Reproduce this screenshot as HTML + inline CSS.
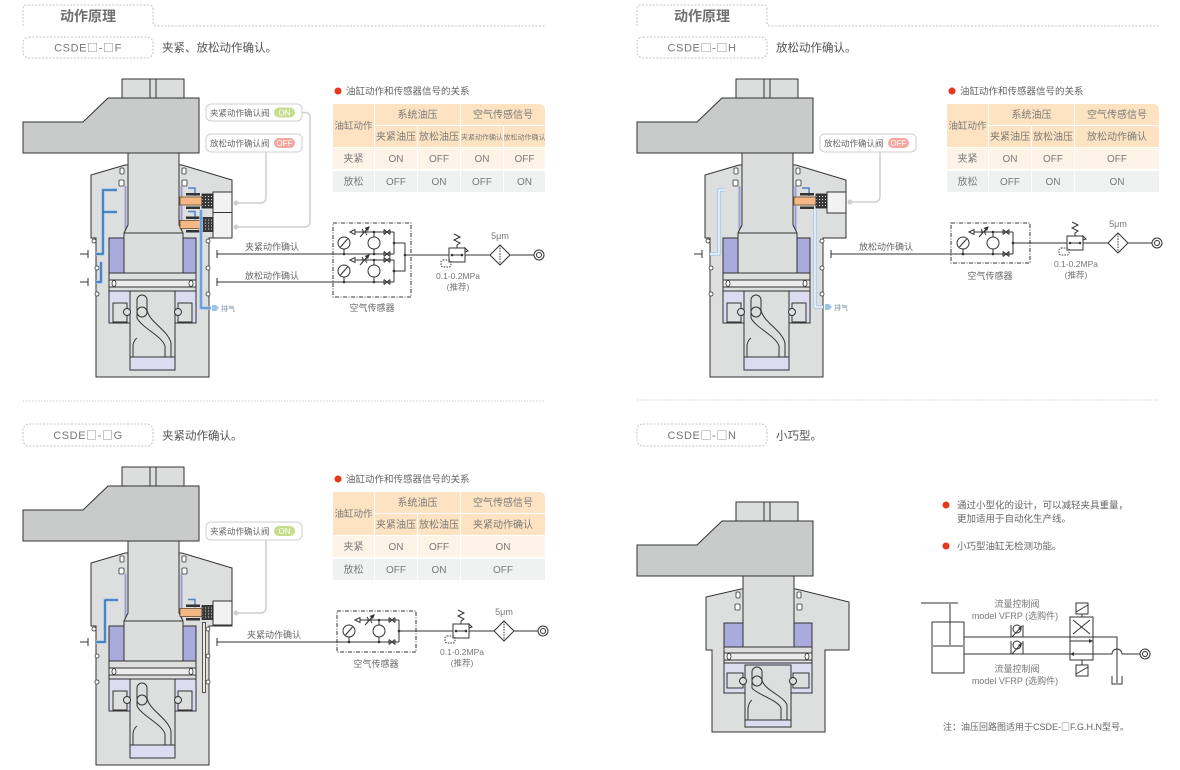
<!DOCTYPE html>
<html><head><meta charset="utf-8"><style>
html,body{margin:0;padding:0;background:#fff;}
svg{display:block;}
text{font-family:"Liberation Sans","Noto Sans CJK SC",sans-serif;}
.cjk{font-family:"Noto Sans CJK SC",sans-serif;}
</style></head><body>
<svg width="1180" height="770" viewBox="0 0 1180 770" xmlns="http://www.w3.org/2000/svg">
<defs>
<pattern id="hatch" width="3" height="3" patternUnits="userSpaceOnUse">
 <rect width="3" height="3" fill="#3a3a3a"/><rect x="1" y="1" width="1" height="1" fill="#d8d8d8"/>
</pattern>
<g id="armnut">
 <rect x="122" y="79" width="62" height="19" fill="#dcdddd" stroke="#333"/>
 <line x1="150" y1="79" x2="150" y2="98" stroke="#333"/>
 <line x1="156" y1="79" x2="156" y2="98" stroke="#333"/>
 <polygon points="108,98 199,98 199,153 23,153 23,122 83,122" fill="#c9caca" stroke="#333"/>
</g>
<g id="cyl">
 <use href="#armnut"/>
 <path d="M91,238 V175 L125,165 H182 L232,180 V238 H209 V377 H96 V238 Z" fill="#dddede" stroke="#333"/>
 <line x1="125.5" y1="186" x2="125.5" y2="232" stroke="#9a9ed6" stroke-width="2"/>
 <line x1="181.5" y1="186" x2="181.5" y2="232" stroke="#9a9ed6" stroke-width="2"/>
 <rect x="109" y="238" width="87" height="35" fill="#a8abdb" stroke="#333"/>
 <path d="M128,153 V225 L124,233 V273 H183 V233 L179,225 V153 Z" fill="#dcdddd" stroke="#333"/>
 <line x1="124" y1="233" x2="183" y2="233" stroke="#333"/>
 <rect x="120" y="168" width="4" height="6" rx="1" fill="#fff" stroke="#333" stroke-width="0.8"/>
 <rect x="119" y="180" width="5" height="6" rx="1" fill="#fff" stroke="#333" stroke-width="0.8"/>
 <rect x="182" y="168" width="4" height="6" rx="1" fill="#fff" stroke="#333" stroke-width="0.8"/>
 <rect x="182" y="180" width="5" height="6" rx="1" fill="#fff" stroke="#333" stroke-width="0.8"/>
 <rect x="109" y="273" width="87" height="7" fill="#dddede" stroke="#333"/>
 <rect x="109" y="280" width="87" height="7" fill="#ececec" stroke="#333"/>
 <ellipse cx="114" cy="283.5" rx="2" ry="3" fill="#fff" stroke="#333" stroke-width="0.8"/>
 <ellipse cx="191" cy="283.5" rx="2" ry="3" fill="#fff" stroke="#333" stroke-width="0.8"/>
 <rect x="109" y="287" width="87" height="4" fill="#dddede" stroke="#333"/>
 <rect x="109" y="291" width="87" height="32" fill="#dcdcf1" stroke="#333"/>
 <rect x="130" y="291" width="45" height="79" fill="#dddede" stroke="#333"/>
 <rect x="130" y="357" width="45" height="13" fill="#dcdcf1" stroke="#333"/>
 <rect x="113" y="303" width="14" height="19" fill="#dddede" stroke="#333"/>
 <rect x="178" y="303" width="14" height="19" fill="#dddede" stroke="#333"/>
 <circle cx="127" cy="312" r="3.5" fill="#dddede" stroke="#333"/>
 <circle cx="178" cy="312" r="3.5" fill="#dddede" stroke="#333"/>
 <path d="M137,300 a5,5 0 0 1 10,0 V310 C149,322 168,330 171,343 V357 H165 V346 C162,336 142,328 137,318 Z" fill="#dddede" stroke="#333"/>
 <circle cx="142" cy="312" r="5" fill="#dddede" stroke="#333"/>
 <path d="M133,357 V345 Q134,340 137,338" fill="none" stroke="#333"/>
 <g fill="#fff" stroke="#333" stroke-width="0.8">
  <circle cx="94" cy="241" r="2"/><circle cx="97" cy="268" r="2"/><circle cx="97" cy="294" r="2"/>
  <circle cx="208" cy="241" r="2"/><circle cx="208" cy="268" r="2"/><circle cx="208" cy="294" r="2"/>
 </g>
</g>
<g id="valve">
 <path d="M8,-13 H15 V-5" fill="none" stroke="#4a86c8" stroke-width="1.5"/>
 <rect x="6" y="-8" width="14" height="2.5" fill="#333"/>
 <rect x="6" y="5.5" width="14" height="2.5" fill="#333"/>
 <rect x="0" y="-4" width="30" height="8" fill="#f4b887" stroke="#6b4a2a" stroke-width="0.8"/>
 <rect x="22" y="-7" width="11" height="14" fill="url(#hatch)" stroke="#222" stroke-width="0.8"/>
</g>
<g id="circ" fill="none" stroke="#333" stroke-width="1">
 <circle cx="7" cy="11" r="6" fill="#fff"/>
 <line x1="3.5" y1="15" x2="10.5" y2="7"/>
 <line x1="7" y1="17" x2="7" y2="22"/>
 <polygon points="13,0 18,-2.5 18,2.5" fill="#fff"/>
 <line x1="18" y1="0" x2="57" y2="0"/>
 <path d="M25,-3 Q27.5,0 25,3 M30,-3 Q27.5,0 30,3"/>
 <line x1="23" y1="5" x2="32" y2="-5"/>
 <polygon points="32,-5 28.5,-3.8 30.8,-1.8" fill="#333"/>
 <circle cx="37" cy="11" r="6" fill="#fff"/>
 <line x1="37" y1="0" x2="37" y2="5"/><line x1="37" y1="17" x2="37" y2="22"/>
 <path d="M47,-2.5 L53,2.5 M47,2.5 L53,-2.5 M47,-2.5 V2.5 M53,-2.5 V2.5"/>
 <path d="M47,19.5 L53,24.5 M47,24.5 L53,19.5 M47,19.5 V24.5 M53,19.5 V24.5"/>
 <line x1="57" y1="0" x2="57" y2="22"/>
 <g fill="#333" stroke="none"><circle cx="37" cy="0" r="1.3"/><circle cx="7" cy="22" r="1.3"/><circle cx="37" cy="22" r="1.3"/><circle cx="57" cy="11" r="1.3"/></g>
</g>
<g id="reg">
 <g fill="none" stroke="#333" stroke-width="1">
  <polyline points="5,-21 11,-18 5,-15 11,-12 8,-10 8,-7"/>
  <rect x="0" y="-7" width="16" height="14" fill="#fff"/>
  <line x1="2" y1="0" x2="14" y2="0"/>
  <polygon points="16,-7 19,-4 16,-3" fill="#fff"/>
  <rect x="-8" y="5" width="10" height="7" rx="2" stroke-dasharray="1.5 1.2"/>
  <line x1="16" y1="0" x2="41" y2="0"/>
  <polygon points="41,0 51,-10 61,0 51,10" fill="#fff"/>
  <line x1="51" y1="-10" x2="51" y2="10" stroke-dasharray="1.5 1.2"/>
  <line x1="61" y1="0" x2="85" y2="0"/>
  <circle cx="90" cy="0" r="5" fill="#fff"/>
  <circle cx="90" cy="0" r="2.5"/>
 </g>
 <circle cx="3" cy="0" r="1.3" fill="#333"/><circle cx="13" cy="0" r="1.3" fill="#333"/>
 <text x="51" y="-16" font-size="9" fill="#777" text-anchor="middle">5μm</text>
 <text x="9" y="24" font-size="8.5" fill="#777" text-anchor="middle">0.1-0.2MPa</text>
 <text x="9" y="35" font-size="8.5" fill="#777" text-anchor="middle">(推荐)</text>
</g>
</defs>

<!-- ============ PANEL 1 ============ -->
<path d="M23,26 V9 Q23,5 27,5 H149 Q153,5 153,9 V22 Q153,26 157,26 H545" fill="none" stroke="#c4c4c4" stroke-dasharray="2 1.5"/>
<text x="88" y="21" font-size="14" font-weight="bold" fill="#707070" text-anchor="middle">动作原理</text>
<rect x="23" y="37" width="130" height="21" rx="6" fill="none" stroke="#c4c4c4" stroke-dasharray="2 1.5"/>
<text x="88" y="51.5" font-size="11" fill="#777" text-anchor="middle" letter-spacing="0.6">CSDE<tspan class="cjk">□</tspan>-<tspan class="cjk">□</tspan>F</text>
<text x="162" y="51.5" font-size="11.5" fill="#555">夹紧、放松动作确认。</text>

<use href="#cyl"/>
<rect x="213" y="192" width="19" height="20.5" fill="#f2f2f2" stroke="#333"/>
<rect x="213" y="212.5" width="19" height="25.5" fill="#f2f2f2" stroke="#333"/>
<use href="#valve" transform="translate(180,201)"/>
<use href="#valve" transform="translate(180,224.5)"/>
<g fill="none" stroke-linejoin="round">
 <path d="M117,190 H103 V254 H96 M103,212 H117 M96,282 H101 V262" stroke="#a8c8ea" stroke-width="3.5"/>
 <path d="M117,190 H103 V254 H96 M103,212 H117 M96,282 H101 V262" stroke="#2f6db5" stroke-width="1.5"/>
 <path d="M201,210 V308 H211" stroke="#a8c8ea" stroke-width="3.5"/>
 <path d="M201,210 V308 H211" stroke="#4a86c8" stroke-width="1.2"/>
</g>
<polygon points="212,305 216,305 219,308 216,311 212,311" fill="#9cc3e8"/>
<text x="221" y="311" font-size="7" fill="#7d8fa3">排气</text>
<g stroke="#333" stroke-width="1">
 <line x1="80" y1="254" x2="88" y2="254"/><line x1="88" y1="250" x2="88" y2="258"/>
 <line x1="80" y1="282" x2="88" y2="282"/><line x1="88" y1="278" x2="88" y2="286"/>
 <line x1="217" y1="250" x2="217" y2="258"/><line x1="217" y1="254" x2="394" y2="254"/>
 <line x1="217" y1="278" x2="217" y2="286"/><line x1="217" y1="282" x2="394" y2="282"/>
</g>
<text x="272" y="250" font-size="9" fill="#666" text-anchor="middle">夹紧动作确认</text>
<text x="272" y="279" font-size="9" fill="#666" text-anchor="middle">放松动作确认</text>
<g fill="none" stroke="#cfcfcf" stroke-width="1.5">
 <path d="M302,112.5 H305 Q310,112.5 310,118 V221 Q310,227 304,227 H236"/>
 <path d="M266,152 V197 Q266,203 260,203 H236"/>
</g>
<circle cx="236" cy="203" r="2.5" fill="#cfcfcf"/><circle cx="236" cy="227" r="2.5" fill="#cfcfcf"/>
<rect x="206" y="104" width="96" height="17" rx="5" fill="#fff" stroke="#cfcfcf"/>
<text x="210" y="116" font-size="8.5" fill="#666">夹紧动作确认阀</text>
<rect x="274" y="107.5" width="21" height="10" rx="5" fill="#c6dd8c"/>
<text x="284.5" y="115.3" font-size="8" fill="#fff" text-anchor="middle">ON</text>
<rect x="206" y="134" width="96" height="18" rx="5" fill="#fff" stroke="#cfcfcf"/>
<text x="210" y="146.5" font-size="8.5" fill="#666">放松动作确认阀</text>
<rect x="274" y="138" width="21" height="10" rx="5" fill="#f5a69d"/>
<text x="284.5" y="145.8" font-size="8" fill="#fff" text-anchor="middle">OFF</text>
<rect x="333" y="223" width="78" height="74" fill="none" stroke="#333" stroke-dasharray="4 1.5 1 1.5"/>
<use href="#circ" transform="translate(337,232)"/>
<use href="#circ" transform="translate(337,260)"/>
<path d="M394,243 H405 V271 H394 M405,255 H449" fill="none" stroke="#333"/>
<circle cx="394" cy="271" r="1.3" fill="#333"/><circle cx="405" cy="255" r="1.3" fill="#333"/>
<text x="372" y="311" font-size="9" fill="#666" text-anchor="middle">空气传感器</text>
<use href="#reg" transform="translate(449,255)"/>
<circle cx="338" cy="91" r="3.5" fill="#e8381b"/>
<text x="346" y="94.5" font-size="9.5" fill="#666">油缸动作和传感器信号的关系</text>
<g fill="#fde3c1">
 <rect x="333" y="104" width="41" height="43"/>
 <rect x="375" y="104" width="85" height="21"/>
 <path d="M461,104 H539 Q545,104 545,110 V125 H461 Z"/>
 <rect x="375" y="126" width="42" height="21"/><rect x="418" y="126" width="42" height="21"/>
 <rect x="461" y="126" width="42" height="21"/><rect x="504" y="126" width="41" height="21"/>
</g>
<g fill="#fdf3e6">
 <rect x="333" y="148" width="41" height="21"/><rect x="375" y="148" width="42" height="21"/><rect x="418" y="148" width="42" height="21"/><rect x="461" y="148" width="42" height="21"/><rect x="504" y="148" width="41" height="21"/>
</g>
<g fill="#f0f1f1">
 <rect x="333" y="171" width="41" height="21"/><rect x="375" y="171" width="42" height="21"/><rect x="418" y="171" width="42" height="21"/><rect x="461" y="171" width="42" height="21"/><rect x="504" y="171" width="41" height="21"/>
</g>
<g font-size="10" fill="#7a7a7a" text-anchor="middle">
 <text x="353.5" y="129" font-size="9.5">油缸动作</text>
 <text x="417.5" y="118">系统油压</text>
 <text x="503" y="118">空气传感信号</text>
 <text x="396" y="140">夹紧油压</text><text x="439" y="140">放松油压</text>
 <text x="482" y="139.5" font-size="7">夹紧动作确认</text><text x="524.5" y="139.5" font-size="7">放松动作确认</text>
 <text x="353.5" y="162">夹紧</text><text x="396" y="162">ON</text><text x="439" y="162">OFF</text><text x="482" y="162">ON</text><text x="524.5" y="162">OFF</text>
 <text x="353.5" y="185">放松</text><text x="396" y="185">OFF</text><text x="439" y="185">ON</text><text x="482" y="185">OFF</text><text x="524.5" y="185">ON</text>
</g>
<line x1="23" y1="401" x2="545" y2="401" stroke="#cfcfcf" stroke-dasharray="1.5 1.5"/>

<!-- ============ PANEL 2 ============ -->
<path d="M637,26 V9 Q637,5 641,5 H763 Q767,5 767,9 V22 Q767,26 771,26 H1159" fill="none" stroke="#c4c4c4" stroke-dasharray="2 1.5"/>
<text x="702" y="21" font-size="14" font-weight="bold" fill="#707070" text-anchor="middle">动作原理</text>
<rect x="637" y="37" width="130" height="21" rx="6" fill="none" stroke="#c4c4c4" stroke-dasharray="2 1.5"/>
<text x="702" y="51.5" font-size="11" fill="#777" text-anchor="middle" letter-spacing="0.6">CSDE<tspan class="cjk">□</tspan>-<tspan class="cjk">□</tspan>H</text>
<text x="776" y="51.5" font-size="11.5" fill="#555">放松动作确认。</text>

<use href="#cyl" transform="translate(614,0)"/>
<rect x="827" y="192" width="19" height="21" fill="#f2f2f2" stroke="#333"/>
<use href="#valve" transform="translate(794,201)"/>
<g fill="none" stroke-linejoin="round">
 <path d="M725,190 H719 V254 H710" stroke="#a8c8ea" stroke-width="3.5"/>
 <path d="M725,190 H719 V254 H710" stroke="#fff" stroke-width="1.2"/>
 <path d="M815,210 V307 H823" stroke="#a8c8ea" stroke-width="3.5"/>
 <path d="M815,210 V307 H823" stroke="#fff" stroke-width="1.2"/>
</g>
<polygon points="825,304 829,304 832,307 829,310 825,310" fill="#9cc3e8"/>
<text x="834" y="310" font-size="7" fill="#7d8fa3">排气</text>
<g stroke="#333" stroke-width="1">
 <line x1="694" y1="254" x2="702" y2="254"/><line x1="702" y1="250" x2="702" y2="258"/>
 <line x1="831" y1="250" x2="831" y2="258"/><line x1="831" y1="254" x2="1013" y2="254"/>
</g>
<text x="886" y="250" font-size="9" fill="#666" text-anchor="middle">放松动作确认</text>
<path d="M880,152 V196 Q880,202 874,202 H850" fill="none" stroke="#cfcfcf" stroke-width="1.5"/>
<circle cx="850" cy="202" r="2.5" fill="#cfcfcf"/>
<rect x="820" y="134" width="96" height="18" rx="5" fill="#fff" stroke="#cfcfcf"/>
<text x="824" y="146.5" font-size="8.5" fill="#666">放松动作确认阀</text>
<rect x="888" y="138" width="21" height="10" rx="5" fill="#f5a69d"/>
<text x="898.5" y="145.8" font-size="8" fill="#fff" text-anchor="middle">OFF</text>
<rect x="951" y="223" width="79" height="40" fill="none" stroke="#333" stroke-dasharray="4 1.5 1 1.5"/>
<use href="#circ" transform="translate(956,232)"/>
<path d="M1013,243 H1067" fill="none" stroke="#333"/>
<text x="990" y="279" font-size="9" fill="#666" text-anchor="middle">空气传感器</text>
<use href="#reg" transform="translate(1067,243)"/>
<circle cx="952" cy="91" r="3.5" fill="#e8381b"/>
<text x="960" y="94.5" font-size="9.5" fill="#666">油缸动作和传感器信号的关系</text>
<g fill="#fde3c1">
 <rect x="947" y="104" width="41" height="43"/>
 <rect x="989" y="104" width="85" height="21"/>
 <path d="M1075,104 H1153 Q1159,104 1159,110 V125 H1075 Z"/>
 <rect x="989" y="126" width="42" height="21"/><rect x="1032" y="126" width="42" height="21"/>
 <rect x="1075" y="126" width="84" height="21"/>
</g>
<g fill="#fdf3e6">
 <rect x="947" y="148" width="41" height="21"/><rect x="989" y="148" width="42" height="21"/><rect x="1032" y="148" width="42" height="21"/><rect x="1075" y="148" width="84" height="21"/>
</g>
<g fill="#f0f1f1">
 <rect x="947" y="171" width="41" height="21"/><rect x="989" y="171" width="42" height="21"/><rect x="1032" y="171" width="42" height="21"/><rect x="1075" y="171" width="84" height="21"/>
</g>
<g font-size="10" fill="#7a7a7a" text-anchor="middle">
 <text x="967.5" y="129" font-size="9.5">油缸动作</text>
 <text x="1031.5" y="118">系统油压</text>
 <text x="1117" y="118">空气传感信号</text>
 <text x="1010" y="140">夹紧油压</text><text x="1053" y="140">放松油压</text>
 <text x="1117" y="140">放松动作确认</text>
 <text x="967.5" y="162">夹紧</text><text x="1010" y="162">ON</text><text x="1053" y="162">OFF</text><text x="1117" y="162">OFF</text>
 <text x="967.5" y="185">放松</text><text x="1010" y="185">OFF</text><text x="1053" y="185">ON</text><text x="1117" y="185">ON</text>
</g>
<line x1="637" y1="400" x2="1159" y2="400" stroke="#cfcfcf" stroke-dasharray="1.5 1.5"/>

<!-- ============ PANEL 3 ============ -->
<rect x="23" y="424" width="130" height="22" rx="6" fill="none" stroke="#c4c4c4" stroke-dasharray="2 1.5"/>
<text x="88" y="439" font-size="11" fill="#777" text-anchor="middle" letter-spacing="0.6">CSDE<tspan class="cjk">□</tspan>-<tspan class="cjk">□</tspan>G</text>
<text x="162" y="439.5" font-size="11.5" fill="#555">夹紧动作确认。</text>

<use href="#cyl" transform="translate(0,388)"/>
<rect x="213" y="601" width="19" height="24" fill="#f2f2f2" stroke="#333"/>
<use href="#valve" transform="translate(180,612.5)"/>
<g fill="none" stroke-linejoin="round">
 <path d="M118,600 H105 V642 H96" stroke="#a8c8ea" stroke-width="3.5"/>
 <path d="M118,600 H105 V642 H96" stroke="#2f6db5" stroke-width="1.5"/>
 <path d="M204,622 V693" stroke="#555" stroke-width="4"/>
 <path d="M204,623 V692" stroke="#f3ead6" stroke-width="2"/>
</g>
<g stroke="#333" stroke-width="1">
 <line x1="80" y1="642" x2="88" y2="642"/><line x1="88" y1="638" x2="88" y2="646"/>
 <line x1="217" y1="638" x2="217" y2="646"/><line x1="217" y1="642" x2="399" y2="642"/>
</g>
<text x="274" y="638" font-size="9" fill="#666" text-anchor="middle">夹紧动作确认</text>
<path d="M266,540 V607 Q266,613 260,613 H236" fill="none" stroke="#cfcfcf" stroke-width="1.5"/>
<circle cx="236" cy="613" r="2.5" fill="#cfcfcf"/>
<rect x="206" y="522" width="96" height="18" rx="5" fill="#fff" stroke="#cfcfcf"/>
<text x="210" y="534.5" font-size="8.5" fill="#666">夹紧动作确认阀</text>
<rect x="274" y="526" width="21" height="10" rx="5" fill="#c6dd8c"/>
<text x="284.5" y="533.8" font-size="8" fill="#fff" text-anchor="middle">ON</text>
<rect x="337" y="611" width="79" height="41" fill="none" stroke="#333" stroke-dasharray="4 1.5 1 1.5"/>
<use href="#circ" transform="translate(342,620)"/>
<path d="M399,631 H453" fill="none" stroke="#333"/>
<text x="376" y="667" font-size="9" fill="#666" text-anchor="middle">空气传感器</text>
<use href="#reg" transform="translate(453,631)"/>
<circle cx="338" cy="479" r="3.5" fill="#e8381b"/>
<text x="346" y="482.5" font-size="9.5" fill="#666">油缸动作和传感器信号的关系</text>
<g fill="#fde3c1">
 <rect x="333" y="492" width="41" height="43"/>
 <rect x="375" y="492" width="85" height="21"/>
 <path d="M461,492 H539 Q545,492 545,498 V513 H461 Z"/>
 <rect x="375" y="514" width="42" height="21"/><rect x="418" y="514" width="42" height="21"/>
 <rect x="461" y="514" width="84" height="21"/>
</g>
<g fill="#fdf3e6">
 <rect x="333" y="536" width="41" height="21"/><rect x="375" y="536" width="42" height="21"/><rect x="418" y="536" width="42" height="21"/><rect x="461" y="536" width="84" height="21"/>
</g>
<g fill="#f0f1f1">
 <rect x="333" y="559" width="41" height="21"/><rect x="375" y="559" width="42" height="21"/><rect x="418" y="559" width="42" height="21"/><rect x="461" y="559" width="84" height="21"/>
</g>
<g font-size="10" fill="#7a7a7a" text-anchor="middle">
 <text x="353.5" y="517" font-size="9.5">油缸动作</text>
 <text x="417.5" y="506">系统油压</text>
 <text x="503" y="506">空气传感信号</text>
 <text x="396" y="528">夹紧油压</text><text x="439" y="528">放松油压</text>
 <text x="503" y="528">夹紧动作确认</text>
 <text x="353.5" y="550">夹紧</text><text x="396" y="550">ON</text><text x="439" y="550">OFF</text><text x="503" y="550">ON</text>
 <text x="353.5" y="573">放松</text><text x="396" y="573">OFF</text><text x="439" y="573">ON</text><text x="503" y="573">OFF</text>
</g>

<!-- ============ PANEL 4 ============ -->
<rect x="637" y="424" width="130" height="22" rx="6" fill="none" stroke="#c4c4c4" stroke-dasharray="2 1.5"/>
<text x="702" y="439" font-size="11" fill="#777" text-anchor="middle" letter-spacing="0.6">CSDE<tspan class="cjk">□</tspan>-<tspan class="cjk">□</tspan>N</text>
<text x="776" y="439.5" font-size="11.5" fill="#555">小巧型。</text>

<use href="#armnut" transform="translate(614,423)"/>
<path d="M706,650 V597 L741,589 H796 L849,602 V650 H825 V732 H712 V650 Z" fill="#dddede" stroke="#333"/>
<rect x="724" y="623" width="88" height="24" fill="#a8abdb" stroke="#333"/>
<rect x="743" y="576" width="51" height="71" fill="#dcdddd" stroke="#333"/>
<g fill="#fff" stroke="#333" stroke-width="0.8">
 <rect x="736" y="592" width="4" height="6" rx="1"/><rect x="735" y="604" width="5" height="6" rx="1"/>
 <rect x="797" y="592" width="4" height="6" rx="1"/><rect x="797" y="604" width="5" height="6" rx="1"/>
</g>
<rect x="724" y="647" width="88" height="6" fill="#dddede" stroke="#333"/>
<rect x="724" y="653" width="88" height="7" fill="#ececec" stroke="#333"/>
<ellipse cx="729" cy="656.5" rx="2" ry="3" fill="#fff" stroke="#333" stroke-width="0.8"/>
<ellipse cx="807" cy="656.5" rx="2" ry="3" fill="#fff" stroke="#333" stroke-width="0.8"/>
<rect x="724" y="660" width="88" height="3" fill="#dddede" stroke="#333"/>
<rect x="724" y="663" width="88" height="30" fill="#dcdcf1" stroke="#333"/>
<rect x="745" y="665" width="46" height="62" fill="#dddede" stroke="#333"/>
<rect x="745" y="720" width="46" height="7" fill="#dcdcf1" stroke="#333"/>
<rect x="727" y="673" width="16" height="15" fill="#dddede" stroke="#333"/>
<rect x="793" y="673" width="16" height="15" fill="#dddede" stroke="#333"/>
<circle cx="743" cy="681" r="3.5" fill="#dddede" stroke="#333"/>
<circle cx="793" cy="681" r="3.5" fill="#dddede" stroke="#333"/>
<path d="M752,672 a5,5 0 0 1 10,0 V680 C764,690 784,696 787,705 V720 H781 V708 C778,700 756,694 752,688 Z" fill="#dddede" stroke="#333"/>
<circle cx="757" cy="681" r="5" fill="#dddede" stroke="#333"/>
<path d="M748,720 V708 Q749,702 752,700" fill="none" stroke="#333"/>

<circle cx="946" cy="505" r="3.5" fill="#e8381b"/>
<text x="957" y="508.5" font-size="9.5" fill="#666">通过小型化的设计，可以减轻夹具重量，</text>
<text x="957" y="522" font-size="9.5" fill="#666">更加适用于自动化生产线。</text>
<circle cx="946" cy="546" r="3.5" fill="#e8381b"/>
<text x="957" y="549.5" font-size="9.5" fill="#666">小巧型油缸无检测功能。</text>

<g fill="none" stroke="#333" stroke-width="1">
 <line x1="921" y1="603" x2="958" y2="603" stroke="#999" stroke-width="2"/>
 <line x1="950" y1="603" x2="950" y2="646" stroke="#999" stroke-width="2"/>
 <rect x="932" y="622" width="32" height="51"/>
 <line x1="932" y1="646" x2="964" y2="646" stroke="#999" stroke-width="2"/>
 <path d="M964,637 H1117 V683"/>
 <path d="M1112,676 V684 H1122 V676"/>
 <path d="M964,654 H1112 A5,5 0 0 1 1122,654 H1140"/>
 <circle cx="1145" cy="654" r="5" fill="#fff"/>
 <circle cx="1145" cy="654" r="2.5"/>
 <rect x="1070" y="617" width="23" height="43" fill="#fff"/>
 <line x1="1070" y1="637" x2="1093" y2="637"/>
 <path d="M1073,620 L1090,634 M1090,620 L1073,634"/>
 <line x1="1070" y1="641" x2="1093" y2="641"/>
 <line x1="1070" y1="654" x2="1093" y2="654"/>
 <rect x="1076" y="603" width="12" height="11"/>
 <line x1="1076" y1="612" x2="1088" y2="605"/>
 <line x1="1082" y1="614" x2="1082" y2="617"/>
 <rect x="1076" y="665" width="12" height="11"/>
 <line x1="1076" y1="674" x2="1088" y2="667"/>
 <line x1="1082" y1="660" x2="1082" y2="665"/>
 <path d="M1011,625 V637 M1023,625 V637"/>
 <circle cx="1017" cy="629" r="4" fill="#fff"/>
 <line x1="1012" y1="637" x2="1022" y2="626"/>
 <path d="M1011,641 V654 M1023,641 V654"/>
 <circle cx="1017" cy="645" r="4" fill="#fff"/>
 <line x1="1012" y1="654" x2="1022" y2="643"/>
</g>
<polygon points="1093,641 1089,639 1089,643" fill="#333"/>
<polygon points="1070,654 1074,652 1074,656" fill="#333"/>
<polygon points="1022,626 1018,628 1020.5,630" fill="#333"/>
<polygon points="1022,643 1018,645 1020.5,647" fill="#333"/>
<g font-size="9" fill="#777" text-anchor="middle">
 <text x="1017" y="607">流量控制阀</text>
 <text x="1015" y="619">model VFRP (选购件)</text>
 <text x="1017" y="672">流量控制阀</text>
 <text x="1015" y="684">model VFRP (选购件)</text>
</g>
<text x="943" y="730" font-size="9" fill="#666">注：油压回路图适用于CSDE-<tspan class="cjk">□</tspan>F.G.H.N型号。</text>
</svg>
</body></html>
